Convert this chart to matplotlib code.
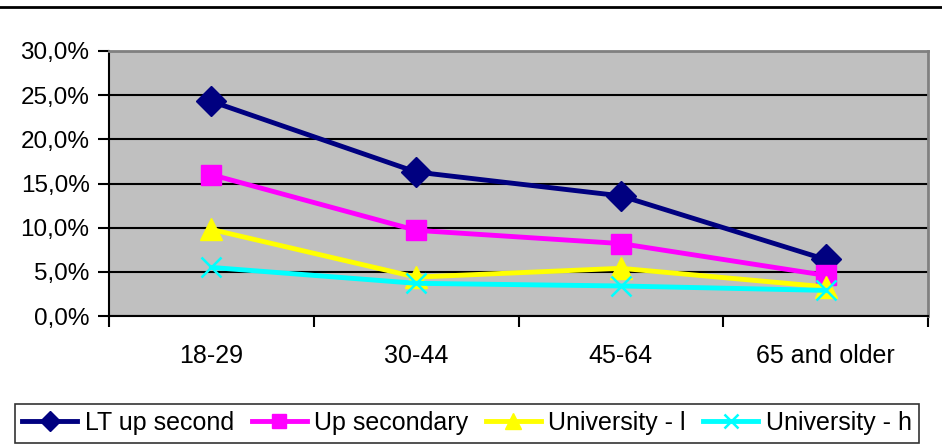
import matplotlib
matplotlib.use("Agg")
import matplotlib.pyplot as plt
from matplotlib.lines import Line2D
from matplotlib.ticker import MultipleLocator, FuncFormatter

plt.rcParams['font.family'] = ['Liberation Sans', 'DejaVu Sans']

categories = ["18-29", "30-44", "45-64", "65 and older"]
lt_up_second = [24.3, 16.3, 13.6, 6.4]
up_secondary = [16.0, 9.7, 8.2, 4.6]
university_l = [9.8, 4.4, 5.4, 3.3]
university_h = [5.5, 3.7, 3.4, 2.9]

series = [
    ("LT up second", lt_up_second, "#000080", "D", 15, dict()),
    ("Up secondary", up_secondary, "#FF00FF", "s", 15, dict()),
    ("University - l", university_l, "#FFFF00", "^", 16, dict()),
    ("University - h", university_h, "#00FFFF", "x", 14, dict(markeredgewidth=1.8)),
]

W, H = 942, 447
fig = plt.figure(figsize=(W / 100, H / 100), dpi=100)
fig.patch.set_facecolor("white")

left, right, top, bottom = 109, 928, 51, 316
ax = fig.add_axes([left / W, 1 - bottom / H, (right - left) / W, (bottom - top) / H])
ax.set_facecolor("#C0C0C0")

x = list(range(len(categories)))
for label, vals, color, marker, ms, extra in series:
    ax.plot(x, vals, color=color, linewidth=3.5, marker=marker, markersize=ms,
            markerfacecolor=color, markeredgecolor=color, label=label,
            clip_on=False, zorder=3, **extra)

ax.set_xlim(-0.5, len(categories) - 0.5)
ax.set_ylim(0, 30)
ax.yaxis.set_major_locator(MultipleLocator(5))
ax.yaxis.set_major_formatter(FuncFormatter(lambda v, p: f"{v:.1f}%".replace(".", ",")))
ax.grid(axis="y", color="black", linewidth=1.5, zorder=1)
ax.set_axisbelow(True)

# category labels centred, tick marks on category boundaries
ax.set_xticks(x)
ax.set_xticklabels(categories)
ax.set_xticks([i - 0.5 for i in range(len(categories) + 1)], minor=True)
ax.tick_params(axis="x", which="major", length=0, pad=20, labelsize=18)
ax.tick_params(axis="x", which="minor", length=8, width=1.5, direction="out")
ax.tick_params(axis="y", length=8, width=1.5, direction="out", labelsize=17.5, pad=6)

for s in ("left", "bottom"):
    ax.spines[s].set_color("black")
    ax.spines[s].set_linewidth(1.5)
for s in ("top", "right"):
    ax.spines[s].set_color("#808080")
    ax.spines[s].set_linewidth(2)

# outer chart border line at top
fig.add_artist(Line2D([0, 1], [1 - 7 / H, 1 - 7 / H], transform=fig.transFigure,
                      color="black", linewidth=2))

leg = fig.legend(loc="center", bbox_to_anchor=(467 / W, 1 - 423 / H), ncol=4,
                 frameon=True, fancybox=False, edgecolor="black", fontsize=18,
                 handlelength=2.2, handletextpad=0.3, columnspacing=0.7,
                 borderpad=0.3, borderaxespad=0, markerscale=0.7)
leg.get_frame().set_linewidth(1.2)

fig.savefig("out.png", dpi=100)
